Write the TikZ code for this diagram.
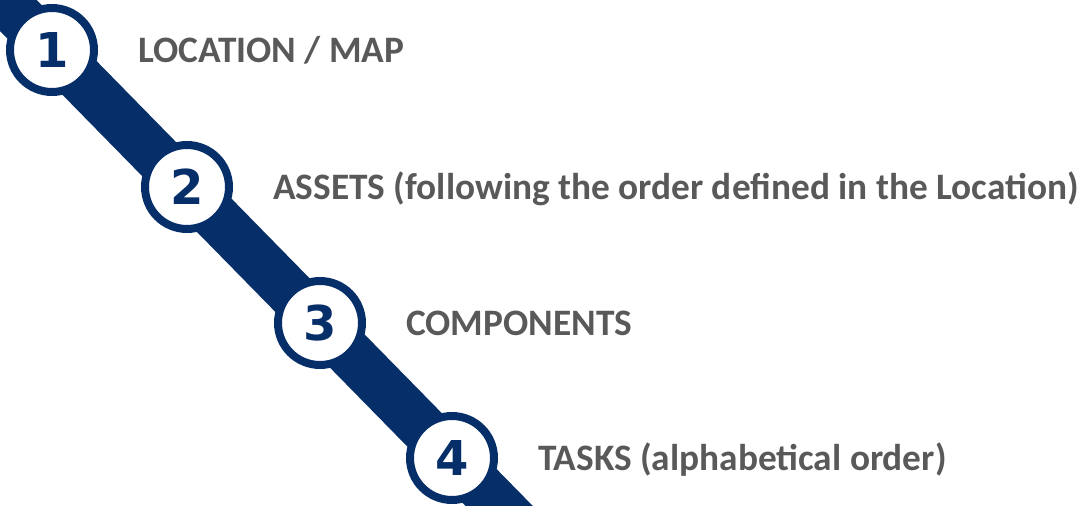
\documentclass[tikz,border=0pt]{standalone}
\usepackage{fontspec}
\setmainfont{Carlito}
\newfontfamily\digitfont{DejaVu Sans}
\usetikzlibrary{positioning}
\definecolor{trackblue}{RGB}{6,47,105}
\definecolor{labelgray}{RGB}{89,89,89}
\tikzset{every node/.style={inner sep=0pt}}

\begin{document}
\begin{tikzpicture}[x=0.75pt, y=-0.75pt,
    milestone/.style={%
        circle, draw=trackblue, line width=6pt, fill=white,
        minimum size=63pt, text=trackblue,
        font=\digitfont\bfseries\fontsize{36}{36}\selectfont},
    description/.style={%
        anchor=base west, text=labelgray,
        font=\bfseries\fontsize{28}{32}\selectfont},
]
\useasboundingbox (0,0) rectangle (1083,506);
\clip (0,0) rectangle (1083,506);

    % Track
    \coordinate (trackstart) at (-40,-44);
    \coordinate (trackend) at (560,568);
    \draw[trackblue, line width=36pt] (trackstart) -- (trackend);

    % Milestones
    \node[milestone] (c1) at (52,50) {1};
    \node[milestone] (c2) at (187,187) {2};
    \node[milestone] (c3) at (320,323) {3};
    \node[milestone] (c4) at (452,458) {4};

    % Descriptions
    \node[description] (l1) at ([xshift=30pt, yshift=-9.5pt]c1.east) {LOCATION / MAP};
    \node[description] (l2) at ([xshift=30pt, yshift=-9.5pt]c2.east) {ASSETS (following the order defined in the Location)};
    \node[description] (l3) at ([xshift=30pt, yshift=-9.5pt]c3.east) {COMPONENTS};
    \node[description] (l4) at ([xshift=30pt, yshift=-9.5pt]c4.east) {TASKS (alphabetical order)};
\end{tikzpicture}
\end{document}
